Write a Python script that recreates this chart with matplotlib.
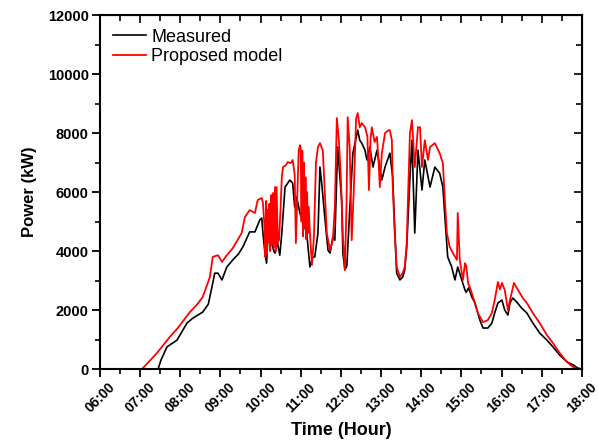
import numpy as np
import matplotlib.pyplot as plt
import matplotlib.transforms as mtransforms

# measured power, hours (decimal) and kW
meas_t = [6.0, 7.45, 7.52, 7.67, 7.92, 8.17, 8.32, 8.56, 8.7, 8.79, 8.86, 8.94, 9.04, 9.16,
          9.31, 9.45, 9.56, 9.73, 9.86, 9.98, 10.03, 10.06, 10.11, 10.15, 10.18, 10.23, 10.28,
          10.33, 10.36, 10.42, 10.48, 10.53, 10.61, 10.73, 10.8, 10.85, 10.9, 10.98, 11.05,
          11.15, 11.23, 11.3, 11.35, 11.43, 11.48, 11.53, 11.6, 11.68, 11.73, 11.8, 11.85,
          11.92, 12.02, 12.05, 12.1, 12.15, 12.22, 12.3, 12.42, 12.47, 12.52, 12.6, 12.65,
          12.72, 12.8, 12.9, 13.02, 13.1, 13.22, 13.29, 13.34, 13.39, 13.47, 13.54, 13.59,
          13.64, 13.72, 13.77, 13.84, 13.92, 14.02, 14.09, 14.22, 14.34, 14.46, 14.54, 14.59,
          14.66, 14.76, 14.84, 14.91, 15.01, 15.09, 15.12, 15.18, 15.26, 15.34, 15.46, 15.54,
          15.66, 15.76, 15.83, 15.91, 16.01, 16.08, 16.16, 16.21, 16.28, 16.38, 16.5, 16.63,
          16.78, 16.95, 17.13, 17.28, 17.45, 17.63, 17.78, 17.9, 18.0]
meas_p = [0, 0, 300, 750, 980, 1560, 1730, 1930, 2200, 2780, 3250, 3250, 3020, 3460,
          3700, 3900, 4140, 4650, 4650, 5050, 5120, 4610, 3930, 3590, 4370, 4710, 4270,
          4000, 3930, 4300, 3860, 4610, 6170, 6410, 6300, 5490, 5830, 5290, 5000,
          4610, 3460, 3800, 3800, 4610, 6850, 6200, 5150, 4030, 3930, 4480, 4370,
          7530, 5730, 3930, 3360, 3500, 5390, 7320, 8100, 7760, 7660, 7420, 7090,
          7530, 6850, 7420, 6410, 6850, 7320, 6510, 4810, 3250, 3020, 3120, 3360,
          4140, 6500, 7760, 4610, 7420, 6070, 7090, 6170, 6850, 6640, 6170, 5150,
          3800, 3460, 3020, 3460, 3020, 2680, 2600, 2750, 2440, 2240, 1660, 1390,
          1390, 1560, 1900, 2240, 2340, 2000, 1830, 2240, 2410, 2270, 2070, 1900,
          1560, 1220, 980, 750, 470, 240, 140, 30, 0]

# proposed model
model_t = [6.0, 7.05, 7.42, 7.74, 7.94, 8.24, 8.41, 8.56, 8.74, 8.81, 8.94, 9.04, 9.16,
           9.31, 9.53, 9.61, 9.73, 9.86, 9.93, 10.03, 10.06, 10.1, 10.12, 10.14, 10.16,
           10.18, 10.2, 10.22, 10.24, 10.26, 10.28, 10.31, 10.33, 10.36, 10.38, 10.4, 10.43,
           10.46, 10.5, 10.53, 10.56, 10.62, 10.68, 10.75, 10.8, 10.85, 10.88, 10.95, 10.98,
           11.0, 11.02, 11.04, 11.06, 11.08, 11.1, 11.12, 11.14, 11.16, 11.18, 11.2, 11.23,
           11.28, 11.33, 11.38, 11.43, 11.48, 11.55, 11.6, 11.65, 11.73, 11.8, 11.85, 11.9,
           11.95, 12.0, 12.05, 12.1, 12.14, 12.17, 12.22, 12.27, 12.32, 12.38, 12.42, 12.47,
           12.52, 12.6, 12.66, 12.7, 12.74, 12.77, 12.84, 12.9, 12.94, 12.97, 13.02, 13.1,
           13.19, 13.22, 13.27, 13.29, 13.34, 13.39, 13.47, 13.54, 13.59, 13.64, 13.67, 13.72,
           13.77, 13.84, 13.92, 13.97, 14.02, 14.09, 14.17, 14.22, 14.34, 14.46, 14.54, 14.59,
           14.64, 14.71, 14.79, 14.89, 14.91, 14.96, 15.04, 15.09, 15.12, 15.17, 15.21, 15.29,
           15.41, 15.54, 15.66, 15.76, 15.83, 15.91, 15.96, 16.01, 16.08, 16.16, 16.21, 16.31,
           16.41, 16.53, 16.63, 16.78, 16.95, 17.13, 17.28, 17.45, 17.63, 17.75, 17.83, 17.9, 18.0]
model_p = [0, 0, 540, 1085, 1390, 1930, 2170, 2440, 3120, 3800, 3860, 3630, 3860,
           4100, 4610, 5150, 5390, 5290, 5730, 5800, 5630, 4810, 3800, 5700, 3900,
           5400, 4300, 5600, 4000, 5900, 4200, 5970, 4100, 6170, 4000, 6170, 4300,
           4370, 5500, 6500, 6850, 6900, 7020, 6980, 7090, 6600, 4270, 7400, 7590,
           7500, 5000, 7400, 4500, 7000, 4800, 6500, 4400, 6000, 4610, 5500, 4610,
           3530, 4500, 7000, 7530, 7660, 7420, 6000, 4610, 4030, 4370, 5500, 8510,
           7760, 6500, 4500, 3360, 5500, 8540, 7500, 4370, 6000, 8500, 8680, 8200,
           8340, 8200, 7900, 6070, 7800, 8200, 7700, 7870, 7000, 6170, 7320, 8000,
           8100, 8100, 7760, 6300, 4610, 3460, 3120, 3250, 3460, 4270, 5730, 8000,
           8440, 6850, 8200, 8200, 6850, 7760, 7090, 7530, 7660, 7320, 6980, 5730,
           4610, 4140, 3930, 3700, 5290, 3700, 3020, 3590, 3500, 2900, 2780, 2440,
           1900, 1590, 1660, 1900, 2340, 2950, 2700, 2920, 2680, 2000, 2340, 2920,
           2680, 2410, 2240, 1900, 1560, 1150, 880, 540, 240, 100, 30, 0, 0]

hours = np.arange(6, 19, 1)
hour_labels = ['%02d:00' % h for h in hours]

plt.rcParams['font.family'] = 'Liberation Sans'

fig = plt.figure(figsize=(5.98, 4.46), dpi=100)
ax = fig.add_axes([0.167, 0.1726, 0.806, 0.7934])

ax.plot(meas_t, meas_p, color='black', lw=1.2, label='Measured')
ax.plot(model_t, model_p, color='#ff0000', lw=1.3, label='Proposed model')

ax.set_xlim(6, 18)
ax.set_ylim(0, 12000)
ax.set_xticks(hours)
ax.set_xticklabels(hour_labels, rotation=45, fontweight='bold', fontsize=10)
# nudge the rotated labels a bit to the left, like the original
shift = mtransforms.ScaledTranslation(-8 / 100, 0, fig.dpi_scale_trans)
for lab in ax.get_xticklabels():
    lab.set_transform(lab.get_transform() + shift)
ax.set_xticks(np.arange(6.5, 18, 1), minor=True)
ax.set_yticks(np.arange(0, 12001, 2000))
ax.set_yticks(np.arange(1000, 12000, 2000), minor=True)
for lab in ax.get_yticklabels():
    lab.set_fontweight('bold')
    lab.set_fontsize(10.5)
ax.tick_params(which='major', direction='out', length=6, width=1.3, pad=2)
ax.tick_params(which='minor', direction='out', length=3.5, width=1.2)
for s in ax.spines.values():
    s.set_linewidth(1.5)

# mirrored ticks on top and right, pointing in
top = ax.secondary_xaxis('top')
top.set_xticks(hours)
top.set_xticks(np.arange(6.5, 18, 1), minor=True)
top.tick_params(which='both', direction='in', labeltop=False, width=1.2)
top.tick_params(which='major', length=6)
top.tick_params(which='minor', length=4)
right = ax.secondary_yaxis('right')
right.set_yticks(np.arange(0, 12001, 2000))
right.set_yticks(np.arange(1000, 12000, 2000), minor=True)
right.tick_params(which='both', direction='in', labelright=False, width=1.2)
right.tick_params(which='major', length=6)
right.tick_params(which='minor', length=4)

ax.set_xlabel('Time (Hour)', fontsize=13, fontweight='bold', labelpad=5)
ax.set_ylabel('Power (kW)', fontsize=12, fontweight='bold', labelpad=8)

ax.legend(loc='upper left', frameon=False, fontsize=13, handlelength=1.8,
          handletextpad=0.3, labelspacing=0.15, borderaxespad=0.35)

fig.savefig('out.png', dpi=100)
